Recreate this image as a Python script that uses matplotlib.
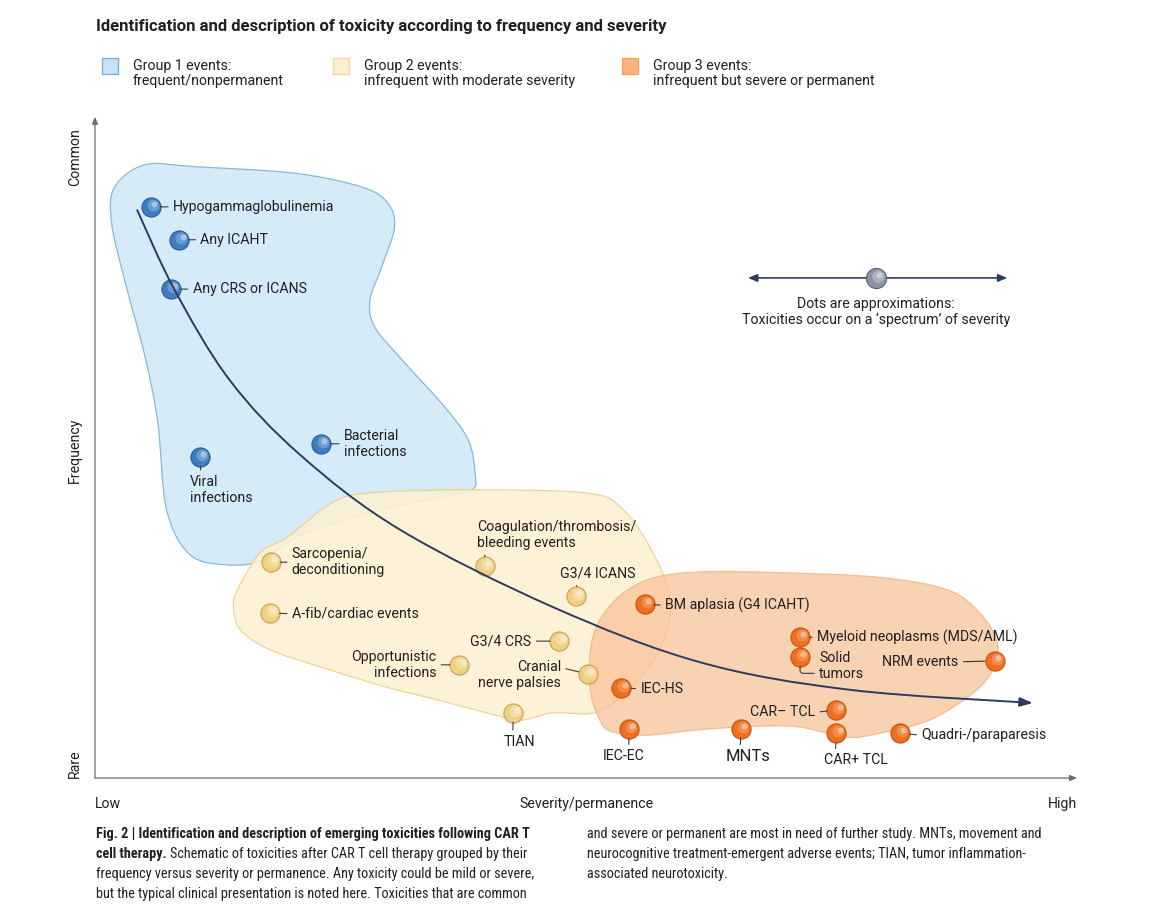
import numpy as np
import matplotlib
matplotlib.use("Agg")
import matplotlib.pyplot as plt
from matplotlib.path import Path
from matplotlib.patches import PathPatch, FancyArrowPatch, Rectangle
from matplotlib.transforms import ScaledTranslation
from matplotlib import font_manager

W, H = 1170, 918

# ---- toxicities: severity/permanence (x) and frequency (y) on a 0-100 schematic scale ----
g1_names = ["Hypogammaglobulinemia", "Any ICAHT", "Any CRS or ICANS",
            "Viral\ninfections", "Bacterial\ninfections"]
g1_sev = [5.7, 8.6, 7.7, 10.7, 23.0]
g1_freq = [86.8, 81.8, 74.3, 48.8, 50.8]

g2_names = ["Sarcopenia/\ndeconditioning", "A-fib/cardiac events",
            "Coagulation/thrombosis/\nbleeding events", "G3/4 ICANS", "G3/4 CRS",
            "Opportunistic\ninfections", "Cranial\nnerve palsies", "TIAN"]
g2_sev = [17.9, 17.8, 39.7, 49.0, 47.3, 37.1, 50.2, 42.6]
g2_freq = [32.8, 25.1, 32.2, 27.7, 20.8, 17.2, 15.8, 9.9]

g3_names = ["BM aplasia (G4 ICAHT)", "Myeloid neoplasms (MDS/AML)", "Solid\ntumors",
            "NRM events", "IEC-HS", "CAR\u2013 TCL", "IEC-EC", "MNTs", "CAR+ TCL",
            "Quadri-/paraparesis"]
g3_sev = [56.0, 71.8, 71.8, 91.6, 53.6, 75.5, 54.4, 65.8, 75.5, 82.0]
g3_freq = [26.4, 21.4, 18.4, 17.8, 13.7, 10.3, 7.4, 7.4, 6.8, 6.8]

# group outlines (same units)
blue_sev = [2.0, 5.1, 10.2, 20.4, 27.2, 29.8, 30.5, 29.2, 28.0, 28.5, 31.3, 35.6, 38.0,
            38.7, 38.4, 35.1, 28.0, 20.9, 17.0, 13.5, 9.7, 7.3, 6.4, 5.1, 3.1, 1.7]
blue_freq = [89.8, 93.2, 92.9, 91.9, 89.8, 87.4, 83.7, 77.7, 72.6, 68.5, 63.5, 56.4, 51.4,
             46.4, 43.8, 42.7, 40.3, 36.9, 33.1, 32.4, 33.9, 40.7, 54.0, 64.0, 75.2, 84.3]
yellow_sev = [14.5, 16.8, 19.6, 24.6, 29.7, 39.9, 50.1, 53.5, 56.5, 58.6, 57.5, 54.5, 51.1,
              46.6, 43.3, 39.9, 34.8, 29.7, 22.9, 17.8, 14.8, 14.1]
yellow_freq = [28.6, 34.2, 36.6, 42.2, 43.5, 43.8, 43.3, 41.2, 35.1, 27.1, 19.5, 13.7, 10.0,
               9.9, 8.8, 9.9, 11.9, 13.8, 16.9, 19.5, 22.5, 26.0]
orange_sev = [51.4, 50.4, 50.7, 52.7, 56.2, 61.3, 69.8, 79.9, 86.8, 90.1, 91.9, 91.4, 89.4,
              85.0, 79.9, 76.6, 71.5, 66.4, 61.3, 56.2, 52.7]
orange_freq = [8.8, 13.8, 21.4, 26.6, 30.1, 31.3, 31.2, 30.5, 28.6, 25.1, 20.5, 16.4, 12.9,
               8.8, 6.8, 6.2, 7.8, 7.8, 7.3, 6.5, 7.0]

# trend arrow
trend_sev = [4.3, 8.1, 13.7, 20.9, 31.1, 46.6, 61.6, 76.9, 95.5]
trend_freq = [86.3, 74.2, 60.5, 49.1, 37.7, 26.0, 17.6, 13.4, 11.4]

legend_titles = ["Group 1 events:\nfrequent/nonpermanent",
                 "Group 2 events:\ninfrequent with moderate severity",
                 "Group 3 events:\ninfrequent but severe or permanent"]

caption_left = [
    [("Fig. 2 | Identification and description of emerging toxicities following CAR T", "bold")],
    [("cell therapy.", "bold"), ("Schematic of toxicities after CAR T cell therapy grouped by their", "normal")],
    [("frequency versus severity or permanence. Any toxicity could be mild or severe,", "normal")],
    [("but the typical clinical presentation is noted here. Toxicities that are common", "normal")],
]
caption_right = [
    [("and severe or permanent are most in need of further study. MNTs, movement and", "normal")],
    [("neurocognitive treatment-emergent adverse events; TIAN, tumor inflammation-", "normal")],
    [("associated neurotoxicity.", "normal")],
]

# label placement: offset in pixels, alignment, leader attachment point on the text
g1_place = [(22, 0, "left", "center", (0, 0.5)), (21, 0, "left", "center", (0, 0.5)),
            (22, 0, "left", "center", (0, 0.5)), (-10, -18, "left", "top", (0.17, 1)),
            (23, 0, "left", "center", (0, 0.5))]
g2_place = [(21, 0, "left", "center", (0, 0.5)), (22, -1, "left", "center", (0, 0.5)),
            (-8, 16, "left", "bottom", (0.05, 0)), (-16, 15, "left", "bottom", (0.22, 0)),
            (-28, 0, "right", "center", (1, 0.5)), (-23, 0, "right", "center", (1, 0.5)),
            (-27, -1, "right", "center", (1, 0.75)), (6, -22, "center", "top", (0.29, 1))]
g3_place = [(20, -1, "left", "center", (0, 0.5)), (17, 0, "left", "center", (0, 0.5)),
            (19, -9, "left", "center", (0, 0.25)), (-36, -1, "right", "center", (1, 0.5)),
            (19, -1, "left", "center", (0, 0.5)), (-21, -2, "right", "center", (1, 0.5)),
            (-6, -20, "center", "top", (0.63, 1)), (7, -20, "center", "top", (0.32, 1)),
            (20, -20, "center", "top", (0.17, 1)), (21, -2, "left", "center", (0, 0.5))]

installed = {f.name for f in font_manager.fontManager.ttflist}
sans = "Roboto" if "Roboto" in installed else "DejaVu Sans"
narrow = next((f for f in ["Liberation Sans Narrow", "Roboto Condensed", "DejaVu Sans Condensed",
                           "Liberation Sans"] if f in installed), "DejaVu Sans")
plt.rcParams["font.family"] = [sans, "DejaVu Sans"]
ink = "#231f20"


def smooth_path(xs, ys, closed):
    # Catmull-Rom through the given points, written as cubic Bezier segments
    p = np.column_stack([xs, ys]).astype(float)
    n = len(p)
    if closed:
        e = np.vstack([p[-1], p, p[0], p[1]])
        segs = n
    else:
        e = np.vstack([p[0], p, p[-1]])
        segs = n - 1
    verts = [p[0]]
    codes = [Path.MOVETO]
    for i in range(segs):
        p0, p1, p2, p3 = e[i], e[i + 1], e[i + 2], e[i + 3]
        verts += [p1 + (p2 - p0) / 6, p2 - (p3 - p1) / 6, p2]
        codes += [Path.CURVE4] * 3
    return Path(verts, codes)


fig = plt.figure(figsize=(W / 100, H / 100), dpi=100)
renderer = fig.canvas.get_renderer()
ax = fig.add_axes([95 / W, 1 - 778 / H, 982 / W, 658 / H])
ax.set_xlim(0, 100)
ax.set_ylim(0, 100)
ax.axis("off")


def fit(t, width_px):
    w = t.get_window_extent(renderer).width
    t.set_fontsize(t.get_fontsize() * width_px / w)
    return t.get_fontsize()


# label size from the widest single-line label
probe = fig.text(0, 0, "Hypogammaglobulinemia", fontsize=10)
lab_fs = fit(probe, 161)
probe.remove()


def spheres(xs, ys, base, edge, light, z, tr=None, s=190):
    tr = ax.transData if tr is None else tr
    ax.scatter(xs, ys, s=s, c=base, edgecolors=edge, linewidths=0.8, zorder=z, transform=tr)
    o1 = tr + ScaledTranslation(0.02, 0.02, fig.dpi_scale_trans)
    ax.scatter(xs, ys, s=s * 0.38, c=light, alpha=0.45, linewidths=0, zorder=z + 0.1, transform=o1)
    o2 = tr + ScaledTranslation(0.032, 0.032, fig.dpi_scale_trans)
    ax.scatter(xs, ys, s=s * 0.1, c="white", alpha=0.4, linewidths=0, zorder=z + 0.2, transform=o2)


# axes arrows
arrow_kw = dict(arrowstyle="-|>,head_length=0.6,head_width=0.25", color="#6b6b6b", lw=0.9,
                shrinkA=0, shrinkB=0, mutation_scale=7)
ax.annotate("", xy=(0, 1.005), xytext=(0, 0), xycoords="axes fraction", arrowprops=arrow_kw)
ax.annotate("", xy=(1.0, 0), xytext=(0, 0), xycoords="axes fraction", arrowprops=arrow_kw)

ax.text(-0.0204, 0.944, "Common", transform=ax.transAxes, rotation=90, ha="center", va="center",
        fontsize=lab_fs, color=ink)
ax.text(-0.0204, 0.498, "Frequency", transform=ax.transAxes, rotation=90, ha="center", va="center",
        fontsize=lab_fs, color=ink)
ax.text(-0.0204, 0.021, "Rare", transform=ax.transAxes, rotation=90, ha="center", va="center",
        fontsize=lab_fs, color=ink)
ax.text(0, -0.0395, "Low", transform=ax.transAxes, ha="left", va="center", fontsize=lab_fs, color=ink)
ax.text(0.501, -0.0395, "Severity/permanence", transform=ax.transAxes, ha="center", va="center",
        fontsize=lab_fs, color=ink)
ax.text(1.0, -0.0395, "High", transform=ax.transAxes, ha="right", va="center", fontsize=lab_fs, color=ink)

# group areas
ax.add_patch(PathPatch(smooth_path(blue_sev, blue_freq, True), fc="#d5ebf8", ec="#86b8dd", lw=0.9, zorder=1))
ax.add_patch(PathPatch(smooth_path(yellow_sev, yellow_freq, True), fc="#fdf0d4", ec="#ead08f", lw=0.9,
                       alpha=0.9, zorder=2))
ax.add_patch(PathPatch(smooth_path(orange_sev, orange_freq, True), fc="#f8c398", ec="#efae80", lw=0.9,
                       alpha=0.75, zorder=3))

# trend
ax.add_patch(FancyArrowPatch(path=smooth_path(trend_sev, trend_freq, False),
                             arrowstyle="-|>,head_length=0.7,head_width=0.25", mutation_scale=11,
                             color="#2c3b5e", lw=1.4, zorder=5))

# dots
spheres(g1_sev, g1_freq, "#3f7dc0", "#2a5b92", "#9cc5ea", 4)
spheres(g2_sev, g2_freq, "#efd085", "#c9a14c", "#fbeec6", 4)
spheres(g3_sev, g3_freq, "#ee6f1e", "#c2520f", "#f8b080", 4)

# labels
for names, xs, ys, place in [(g1_names, g1_sev, g1_freq, g1_place),
                             (g2_names, g2_sev, g2_freq, g2_place),
                             (g3_names, g3_sev, g3_freq, g3_place)]:
    for name, x, y, (dx, dy, ha, va, rp) in zip(names, xs, ys, place):
        cs = "angle,angleA=0,angleB=90,rad=3" if name.startswith("Solid") else "arc3"
        fs = lab_fs * 1.18 if name == "MNTs" else lab_fs
        ax.annotate(name, (x, y), xytext=(dx, dy), textcoords="offset pixels", ha=ha, va=va,
                    fontsize=fs, linespacing=1.15, color=ink, zorder=6,
                    arrowprops=dict(arrowstyle="-", color="#3a3a3a", lw=0.8, shrinkA=1.5,
                                    shrinkB=6.8, relpos=rp, connectionstyle=cs))

# spectrum note
ax.annotate("", xy=(0.929, 0.760), xytext=(0.665, 0.760), xycoords="axes fraction",
            arrowprops=dict(arrowstyle="<|-|>,head_length=0.6,head_width=0.25", color="#2c3b5e",
                            lw=1.2, shrinkA=0, shrinkB=0, mutation_scale=9))
spheres([0.795], [0.760], "#8d93a7", "#5d6378", "#cfd3dd", 7, tr=ax.transAxes, s=210)
ax.text(0.795, 0.708, "Dots are approximations:\nToxicities occur on a \u2018spectrum\u2019 of severity",
        transform=ax.transAxes, ha="center", va="center", fontsize=lab_fs, linespacing=1.15, color=ink)

# title
title = fig.text(96 / W, 1 - 27 / H, "Identification and description of toxicity according to "
                 "frequency and severity", fontsize=11, fontweight="bold", va="center", color=ink)
fit(title, 571)

# legend (drawn by hand so the square sits beside the first line)
leg_x = [102, 333, 622]
leg_fc = ["#c4e3f7", "#fdf0cd", "#fbb47a"]
leg_ec = ["#78acd5", "#efd79d", "#f2a060"]
for x0, lbl, fc, ec in zip(leg_x, legend_titles, leg_fc, leg_ec):
    fig.add_artist(Rectangle((x0 / W, 1 - 74 / H), 16 / W, 16 / H, transform=fig.transFigure,
                             fc=fc, ec=ec, lw=0.9))
    fig.text((x0 + 31) / W, 1 - 59 / H, lbl, fontsize=lab_fs * 1.0, linespacing=1.1,
             va="top", ha="left", color=ink)

# caption
probe = fig.text(0, 0, caption_left[2][0][0], fontsize=9, family=[narrow, "DejaVu Sans"])
cap_fs = fit(probe, 441)
probe.remove()
for x0, lines in [(96, caption_left), (587, caption_right)]:
    for i, runs in enumerate(lines):
        x = x0
        for txt, weight in runs:
            t = fig.text(x / W, 1 - (838 + 20 * i) / H, txt, fontsize=cap_fs, fontweight=weight,
                         family=[narrow, "DejaVu Sans"], va="baseline", ha="left", color=ink)
            x += t.get_window_extent(renderer).width + cap_fs * 0.35

fig.savefig("out.png", dpi=100, facecolor="white")
